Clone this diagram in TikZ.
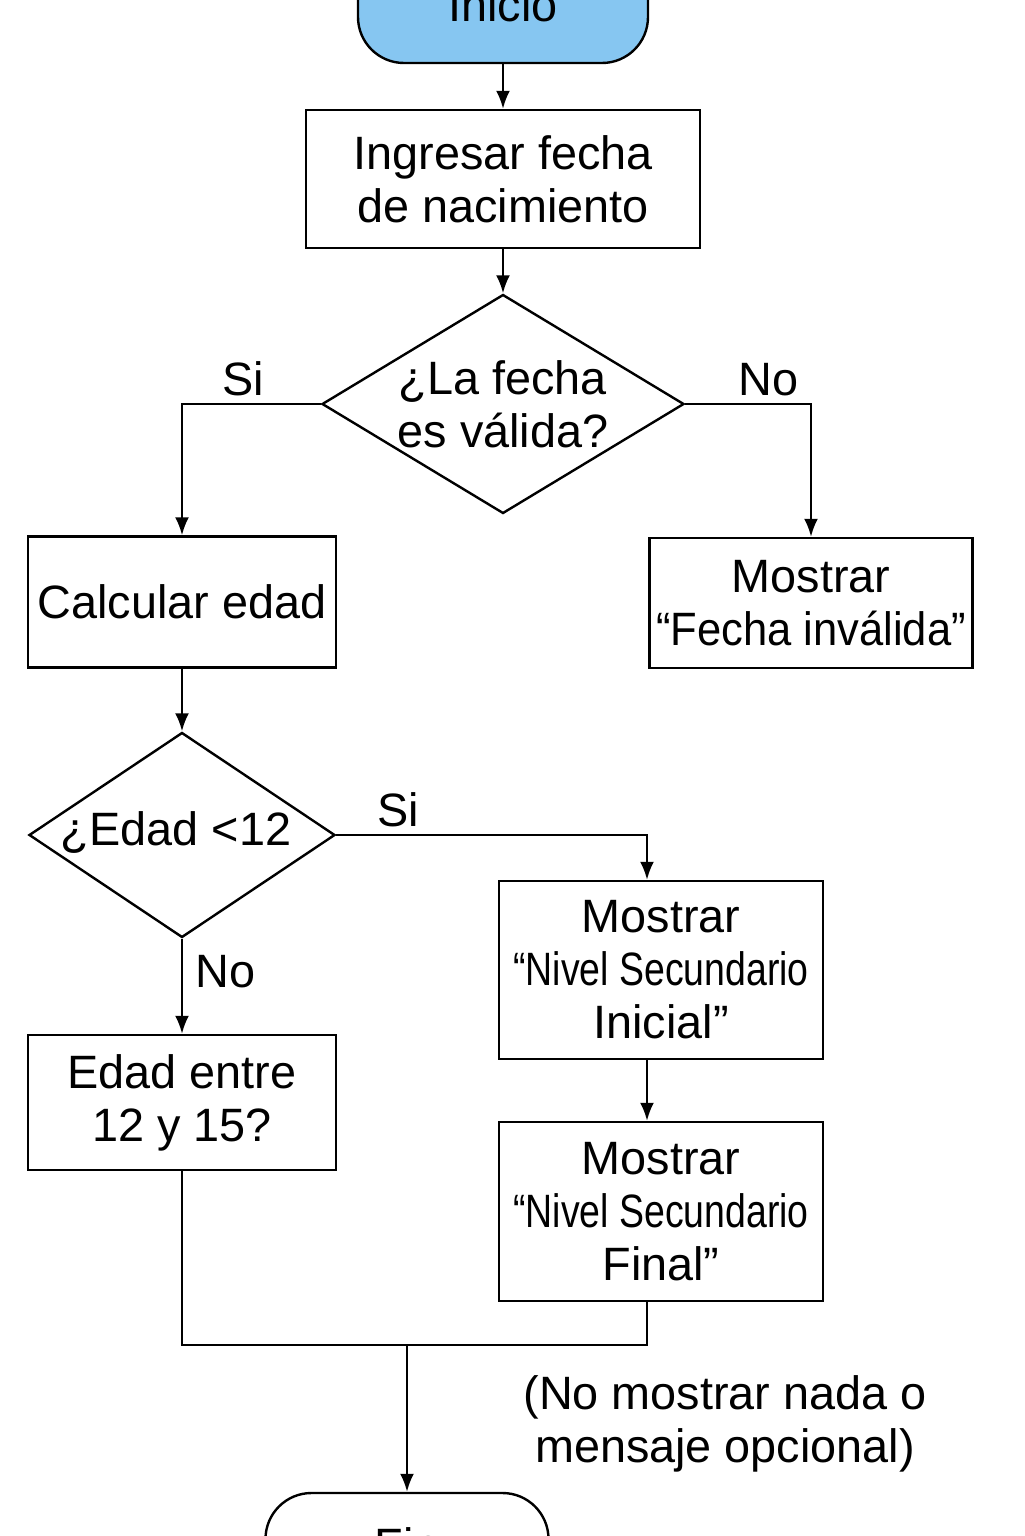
\documentclass[tikz,border=0pt]{standalone}
\usepackage{fontspec}
\setmainfont{Liberation Sans}
\newfontfamily\estrecha[FakeStretch=0.8]{Liberation Sans}
\newfontfamily\semiestrecha[FakeStretch=0.93]{Liberation Sans}
\usetikzlibrary{shapes, positioning, arrows.meta}
\definecolor{celeste}{HTML}{86C6F1}

\tikzset{
	caja/.style={draw, line width=1.2pt, align=center, inner sep=2pt},
	decision/.style={draw, diamond, line width=1.2pt, inner sep=0pt},
	terminal/.style={draw, line width=1.2pt, rounded corners=23pt, inner sep=2pt},
	flecha/.style={-{Latex[length=9pt, width=7pt]}, line width=1.2pt},
	linea/.style={line width=1.2pt}
}

\begin{document}
\begin{tikzpicture}[x=0.5pt, y=-0.5pt, font=\fontsize{23.4pt}{26.5pt}\selectfont]
		\useasboundingbox (0,0) rectangle (1024,1536);
		\clip (0,0) rectangle (1024,1536);
		
		% inicio y fecha
		\node[terminal, fill=celeste, minimum width=145pt, minimum height=58pt] (inicio) at (503,5) {Inicio};
		\node[caja, minimum width=197pt, minimum height=69pt] (ingresar) at (503,179) {Ingresar fecha\\de nacimiento};
		\node[decision, minimum width=181pt, minimum height=109.5pt, label={[align=center]center:{¿La fecha\\es válida?}}] (valida) at (503,404) {};
		
		\draw[flecha] (inicio) -- (ingresar);
		\draw[flecha] (ingresar) -- (valida);
		
		% ramas de la fecha
		\node[caja, minimum width=154pt, minimum height=65.5pt] (calcular) at (182,602) {Calcular edad};
		\node[caja, minimum width=161.5pt, minimum height=65pt] (invalida) at (811,603) {Mostrar\\{\semiestrecha “Fecha inválida”}};
		
		\draw[flecha] (valida.west) -| (calcular.north) node[pos=.28, above]{Si};
		\draw[flecha] (valida.east) -| (invalida.north) node[pos=.33, above]{No};
		
		% edad
		\node[decision, minimum width=153pt, minimum height=102.5pt, label={[xshift=-3pt, yshift=1pt]center:{¿Edad <12}}] (edad) at (182,835) {};
		\node[caja, minimum width=162pt, minimum height=89pt] (inicial) at (661,970) {Mostrar\\{\estrecha “Nivel Secundario}\\Inicial”};
		\node[caja, minimum width=162pt, minimum height=89.5pt] (final) at (661,1211.5) {Mostrar\\{\estrecha “Nivel Secundario}\\Final”};
		\node[caja, minimum width=154pt, minimum height=67.5pt] (entre) at (182,1102.5) {Edad entre\\12 y 15?};
		
		\draw[flecha] (calcular) -- (edad);
		\draw[flecha] (edad.east) -| ([xshift=-7pt]inicial.north) node[pos=.1, above]{Si};
		\draw[flecha] ([xshift=-7pt]inicial.south) -- ([xshift=-7pt]final.north);
		\draw[flecha] (edad.south) -- (entre.north) node[pos=.35, right, xshift=3pt]{No};
		
		% fin
		\coordinate (junta) at (407,1345);
		\node[terminal, fill=white, minimum width=141.5pt, minimum height=52pt] (fin) at (407,1545) {Fin};
		\node[align=center] (nota) at (725,1424) {(No mostrar nada o\\mensaje opcional)};
		
		\draw[linea] (entre.south) |- (junta) -| ([xshift=-7pt]final.south);
		\draw[flecha] (junta) -- (fin);
\end{tikzpicture}
\end{document}
